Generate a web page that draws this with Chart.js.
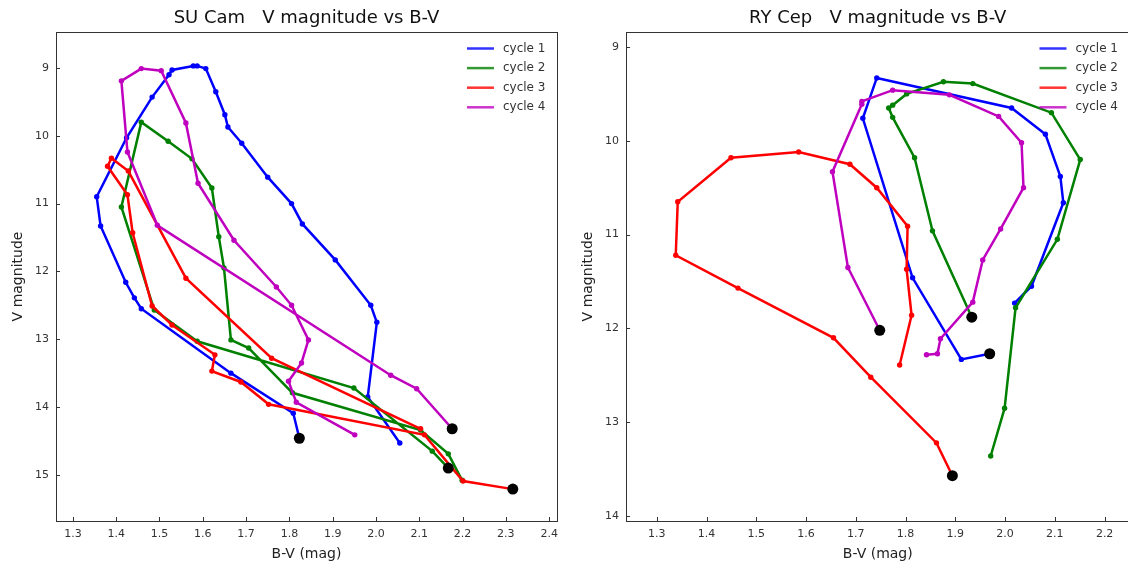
<!DOCTYPE html>
<html><head><meta charset="utf-8">
<script src="https://cdn.jsdelivr.net/npm/chart.js@4.4.1/dist/chart.umd.min.js"></script>
<style>
html,body{margin:0;padding:0;width:1128px;height:569px;overflow:hidden;background:#fff;}
.box{position:absolute;top:0;width:565px;height:569px;}
</style></head><body>
<div class="box" style="left:0"><canvas id="c1" width="565" height="569"></canvas></div>
<div class="box" style="left:570px"><canvas id="c2" width="565" height="569"></canvas></div>
<script>
// ---------- data ----------
const CYCLE_LABELS = ['cycle 1','cycle 2','cycle 3','cycle 4'];
const CYCLE_COLORS = ['#0000ff','#008000','#ff0000','#bf00bf'];

// SU Cam
const SU_C1_BV = [2.055,1.981,2.002,1.988,1.906,1.830,1.805,1.750,1.690,1.658,1.651,1.630,1.607,1.587,1.578,1.529,1.522,1.483,1.424,1.355,1.364,1.422,1.442,1.458,1.665,1.809,1.823];
const SU_C1_V  = [14.53,13.85,12.75,12.50,11.83,11.30,11.00,10.61,10.11,9.87,9.69,9.35,9.01,8.97,8.97,9.03,9.10,9.43,10.03,10.90,11.33,12.16,12.39,12.55,13.50,14.09,14.46];
const SU_C2_BV = [2.199,2.167,2.103,1.807,1.706,1.665,1.649,1.637,1.621,1.575,1.520,1.458,1.412,1.488,1.587,1.949,2.130,2.167];
const SU_C2_V  = [15.08,14.69,14.34,13.79,13.13,13.01,11.95,11.49,10.77,10.34,10.08,9.80,11.05,12.57,13.03,13.72,14.65,14.90];
const SU_C3_BV = [2.103,1.759,1.561,1.428,1.389,1.380,1.426,1.438,1.483,1.529,1.628,1.621,1.688,1.752,2.112,2.201,2.316];
const SU_C3_V  = [14.32,13.28,12.10,10.52,10.33,10.45,10.87,11.43,12.51,12.79,13.23,13.47,13.63,13.96,14.41,15.09,15.21];
const SU_C4_BV = [1.951,1.816,1.798,1.828,1.844,1.805,1.770,1.672,1.589,1.561,1.504,1.458,1.412,1.426,1.495,2.034,2.094,2.176];
const SU_C4_V  = [14.41,13.93,13.62,13.35,13.01,12.50,12.23,11.54,10.70,9.81,9.04,9.01,9.19,10.24,11.32,13.53,13.73,14.32];

// RY Cep
const RY_C1_BV = [2.019,2.053,2.117,2.111,2.081,2.013,1.742,1.714,1.814,1.912,1.969];
const RY_C1_V  = [11.73,11.55,10.66,10.38,9.93,9.65,9.33,9.76,11.46,12.33,12.27];
const RY_C2_BV = [1.971,1.999,2.021,2.105,2.151,2.093,1.935,1.876,1.802,1.774,1.766,1.774,1.818,1.854,1.933];
const RY_C2_V  = [13.36,12.85,11.78,11.05,10.20,9.70,9.39,9.37,9.50,9.62,9.65,9.75,10.18,10.96,11.88];
const RY_C3_BV = [1.788,1.812,1.802,1.804,1.742,1.688,1.585,1.449,1.342,1.338,1.463,1.655,1.730,1.862,1.894];
const RY_C3_V  = [12.39,11.86,11.37,10.91,10.50,10.25,10.12,10.18,10.65,11.22,11.57,12.10,12.52,13.22,13.57];
const RY_C4_BV = [1.842,1.864,1.870,1.935,1.955,1.991,2.037,2.033,1.987,1.888,1.774,1.712,1.712,1.653,1.684,1.748];
const RY_C4_V  = [12.28,12.27,12.11,11.72,11.27,10.94,10.50,10.02,9.74,9.51,9.46,9.58,9.61,10.33,11.35,12.02];

// ticks
const SU_X_TICKS = [1.3,1.4,1.5,1.6,1.7,1.8,1.9,2.0,2.1,2.2,2.3,2.4];
const SU_Y_TICKS = [9,10,11,12,13,14,15];
const RY_X_TICKS = [1.3,1.4,1.5,1.6,1.7,1.8,1.9,2.0,2.1,2.2];
const RY_Y_TICKS = [9,10,11,12,13,14];
const SU_X_RANGE = [1.261, 2.418];
const SU_Y_RANGE = [8.47, 15.68];
const RY_X_RANGE = [1.238, 2.25];
const RY_Y_RANGE = [8.84, 14.053];

// ---------- helpers ----------
const FONT = "'DejaVu Sans', 'Liberation Sans', sans-serif";
function pts(xs, ys){ return xs.map((x,i)=>({x:x, y:ys[i]})); }

const decorPlugin = {
  id: 'decor',
  afterDraw(chart, args, opts){
    const ctx = chart.ctx, a = chart.chartArea;
    ctx.save();
    // frame
    ctx.strokeStyle = '#333';
    ctx.lineWidth = 1;
    ctx.strokeRect(Math.round(a.left)+0.5, Math.round(a.top)+0.5, Math.round(a.right-a.left), Math.round(a.bottom-a.top));
    // inward ticks
    const xs = chart.scales.x, ys = chart.scales.y;
    ctx.beginPath();
    xs.ticks.forEach(t=>{
      const px = Math.round(xs.getPixelForValue(t.value))+0.5;
      ctx.moveTo(px, a.bottom); ctx.lineTo(px, a.bottom-4);
    });
    ys.ticks.forEach(t=>{
      const py = Math.round(ys.getPixelForValue(t.value))+0.5;
      ctx.moveTo(a.left, py); ctx.lineTo(a.left+4, py);
    });
    ctx.stroke();
    // title
    ctx.fillStyle = '#111';
    ctx.font = '18px ' + FONT;
    ctx.textAlign = 'center';
    ctx.textBaseline = 'middle';
    ctx.fillText(opts.title, (a.left+a.right)/2, 18);
    // legend
    ctx.font = '12px ' + FONT;
    ctx.textAlign = 'left';
    chart.data.datasets.filter(d=>CYCLE_LABELS.includes(d.label)).forEach((d,i)=>{
      const y = a.top + 16.5 + i*19.6;
      ctx.strokeStyle = d.borderColor;
      ctx.globalAlpha = 0.8;
      ctx.lineWidth = 2.5;
      ctx.beginPath(); ctx.moveTo(a.right-90, y); ctx.lineTo(a.right-63, y); ctx.stroke();
      ctx.globalAlpha = 1;
      ctx.fillStyle = '#333';
      ctx.fillText(d.label, a.right-54, y);
    });
    ctx.restore();
  }
};

function makeChart(id, title, cycles, xr, yr, xt, yt){
  const datasets = [];
  const ends = cycles.map(c=>({x:c[0][c[0].length-1], y:c[1][c[1].length-1]}));
  datasets.push({label:'_end', data: ends, showLine:false, pointRadius:5.5, backgroundColor:'#000', borderColor:'#000', borderWidth:0, order:0});
  cycles.forEach((c,i)=>{
    datasets.push({
      label: CYCLE_LABELS[i], data: pts(c[0], c[1]), showLine:true,
      borderColor: CYCLE_COLORS[i], backgroundColor: CYCLE_COLORS[i],
      borderWidth: 2.5, pointRadius: 2.7, pointBorderWidth:0, tension:0, order: 4-i
    });
  });
  return new Chart(document.getElementById(id), {
    type: 'scatter',
    data: { datasets },
    plugins: [decorPlugin],
    options: {
      responsive:false, animation:false, devicePixelRatio:1, events:[],
      layout: { padding: {top:32, right:5, left:0, bottom:0} },
      plugins: { legend:{display:false}, tooltip:{enabled:false}, title:{display:false}, decor:{title} },
      scales: {
        x: {
          type:'linear', min:xr[0], max:xr[1],
          grid:{display:false, drawTicks:false}, border:{display:false},
          afterBuildTicks: s=>{ s.ticks = xt.map(v=>({value:v})); },
          afterFit: s=>{ s.height = 48; },
          ticks:{ autoSkip:false, maxRotation:0, padding:7, color:'#333', font:{family:FONT, size:11}, callback:v=>Number(v).toFixed(1) },
          title:{ display:true, text:'B-V (mag)', color:'#222', font:{family:FONT, size:14}, padding:{top:0, bottom:6} }
        },
        y: {
          type:'linear', reverse:true, min:yr[0], max:yr[1],
          grid:{display:false, drawTicks:false}, border:{display:false},
          afterBuildTicks: s=>{ s.ticks = yt.map(v=>({value:v})); },
          afterFit: s=>{ s.width = 56; },
          ticks:{ autoSkip:false, padding:7, color:'#333', font:{family:FONT, size:11}, callback:v=>String(v) },
          title:{ display:true, text:'V magnitude', color:'#222', font:{family:FONT, size:14}, padding:{top:10, bottom:0} }
        }
      }
    }
  });
}

makeChart('c1', 'SU Cam   V magnitude vs B-V',
  [[SU_C1_BV,SU_C1_V],[SU_C2_BV,SU_C2_V],[SU_C3_BV,SU_C3_V],[SU_C4_BV,SU_C4_V]],
  SU_X_RANGE, SU_Y_RANGE, SU_X_TICKS, SU_Y_TICKS);
makeChart('c2', 'RY Cep   V magnitude vs B-V',
  [[RY_C1_BV,RY_C1_V],[RY_C2_BV,RY_C2_V],[RY_C3_BV,RY_C3_V],[RY_C4_BV,RY_C4_V]],
  RY_X_RANGE, RY_Y_RANGE, RY_X_TICKS, RY_Y_TICKS);
</script>
</body></html>
